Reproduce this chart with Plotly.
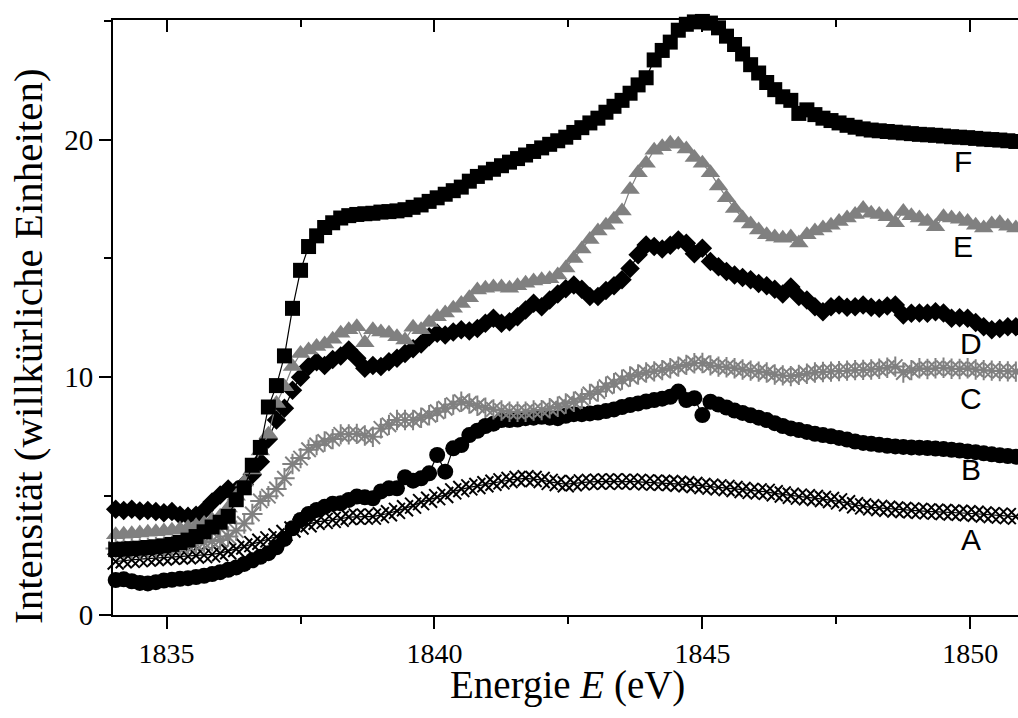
import plotly.graph_objects as go

# Energy sampling grid (eV), 0.15 eV steps
energy = [round(1834.05 + 0.15 * i, 2) for i in range(113)]

spec_F = [
    2.75, 2.77, 2.79, 2.81, 2.84, 2.87, 2.91, 2.97, 3.05, 3.15,
    3.3, 3.5, 3.7, 3.9, 4.15, 4.85, 5.35, 6.3, 7.05, 8.75,
    9.65, 10.9, 12.9, 14.5, 15.5, 15.95, 16.3, 16.5, 16.7, 16.8,
    16.85, 16.88, 16.9, 16.95, 16.97, 17.0, 17.05, 17.15, 17.25, 17.4,
    17.55, 17.7, 17.85, 18.0, 18.25, 18.45, 18.6, 18.75, 18.9, 19.05,
    19.2, 19.35, 19.5, 19.65, 19.8, 19.95, 20.1, 20.3, 20.5, 20.7,
    20.9, 21.15, 21.4, 21.65, 21.95, 22.3, 22.6, 23.35, 23.75, 24.1,
    24.6, 24.85, 24.95, 24.97, 24.9, 24.7, 24.35, 24.0, 23.6, 23.15,
    22.8, 22.4, 22.1, 21.8, 21.65, 21.1, 21.25, 21.05, 20.9, 20.8,
    20.7, 20.6, 20.52, 20.45, 20.4, 20.37, 20.34, 20.31, 20.28, 20.25,
    20.22, 20.2, 20.18, 20.15, 20.12, 20.1, 20.08, 20.05, 20.02, 20.0,
    19.98, 19.95, 19.92]

spec_E = [
    3.38, 3.4, 3.42, 3.45, 3.48, 3.5, 3.53, 3.57, 3.62, 3.68,
    3.75, 3.85, 4.0, 4.15, 4.5, 5.0, 5.6, 6.1, 6.9, 7.6,
    8.9, 9.6, 10.45, 11.0, 11.15, 11.3, 11.4, 11.6, 11.85, 12.0,
    12.13, 11.45, 12.0, 11.9, 11.85, 11.7, 11.57, 12.1, 12.0, 12.3,
    12.55, 12.7, 12.9, 13.1, 13.35, 13.67, 13.75, 13.8, 13.8, 13.75,
    13.85, 13.96, 14.05, 14.1, 14.15, 14.3, 14.6, 15.0, 15.4, 15.8,
    16.15, 16.4, 16.65, 17.0, 17.9, 18.6, 19.0, 19.55, 19.7, 19.85,
    19.8, 19.6, 19.25, 19.0, 18.6, 18.05, 17.55, 17.1, 16.7, 16.45,
    16.2, 16.0, 15.9, 15.85, 15.9, 15.65, 16.0, 16.15, 16.28, 16.4,
    16.55, 16.7, 16.85, 17.1, 16.9, 16.85, 16.75, 16.5, 16.97, 16.8,
    16.7, 16.55, 16.33, 16.75, 16.7, 16.65, 16.55, 16.4, 16.28, 16.45,
    16.5, 16.35, 16.28]

spec_D = [
    4.45, 4.4, 4.45, 4.38, 4.4, 4.35, 4.3, 4.35, 4.2, 4.15,
    4.2, 4.4, 4.75, 5.05, 5.3, 5.25, 5.5, 5.9, 6.45, 7.4,
    8.2, 8.7, 9.45, 10.0, 10.45, 10.65, 10.5, 10.75, 10.9, 11.15,
    10.8, 10.38, 10.5, 10.45, 10.65, 10.8, 11.0, 11.2, 11.4, 11.7,
    11.85, 11.78, 11.9, 12.0, 11.95, 12.05, 12.27, 12.48, 12.27, 12.34,
    12.55, 12.83, 13.11, 12.97, 13.25, 13.5, 13.72, 13.88, 13.7, 13.4,
    13.4, 13.65, 13.85, 14.1, 14.58, 15.15, 15.57, 15.5, 15.4, 15.55,
    15.78, 15.64, 15.2, 15.43, 14.87, 14.65, 14.45, 14.3, 14.2, 14.1,
    13.95, 13.85, 13.7, 13.5, 13.8, 13.4, 13.25, 12.97, 12.76, 12.97,
    13.04, 12.95, 12.97, 13.04, 12.95, 12.9, 13.0, 13.04, 12.62, 12.69,
    12.7, 12.69, 12.76, 12.7, 12.48, 12.5, 12.48, 12.3, 12.13, 12.0,
    12.05, 12.13, 12.13]

spec_C = [
    2.8, 2.8, 2.8, 2.8, 2.82, 2.85, 2.87, 2.9, 2.92, 2.95,
    3.0, 3.05, 3.1, 3.15, 3.3, 3.55, 3.85, 4.25, 4.8, 5.0,
    5.3, 5.75, 6.35, 6.6, 6.95, 7.15, 7.3, 7.4, 7.6, 7.6,
    7.62, 7.55, 7.5, 7.85, 8.0, 8.2, 8.2, 8.2, 8.3, 8.4,
    8.55, 8.7, 8.85, 8.97, 8.9, 8.8, 8.72, 8.65, 8.6, 8.55,
    8.55, 8.55, 8.6, 8.62, 8.7, 8.76, 8.9, 8.97, 9.1, 9.3,
    9.4, 9.6, 9.75, 9.9, 10.03, 10.12, 10.2, 10.25, 10.3, 10.38,
    10.45, 10.52, 10.59, 10.6, 10.5, 10.45, 10.42, 10.38, 10.33, 10.28,
    10.24, 10.2, 10.12, 10.08, 10.05, 10.1, 10.15, 10.2, 10.22, 10.24,
    10.26, 10.28, 10.3, 10.31, 10.33, 10.36, 10.4, 10.45, 10.2, 10.3,
    10.38, 10.35, 10.38, 10.4, 10.36, 10.35, 10.38, 10.33, 10.3, 10.28,
    10.26, 10.25, 10.24]

spec_B = [
    1.47, 1.5, 1.42, 1.35, 1.33, 1.38, 1.45, 1.48, 1.52, 1.55,
    1.6, 1.65, 1.72, 1.8, 1.9, 2.0, 2.15, 2.3, 2.45, 2.6,
    2.85, 3.2, 3.65, 4.0, 4.25, 4.42, 4.55, 4.68, 4.7, 4.84,
    4.98, 4.95, 4.91, 5.2, 5.33, 5.33, 5.8, 5.65, 5.75, 5.96,
    6.73, 6.03, 7.01, 7.15, 7.57, 7.75, 7.95, 8.05, 8.2, 8.2,
    8.22, 8.28, 8.3, 8.34, 8.3, 8.28, 8.38, 8.45, 8.45, 8.48,
    8.52, 8.58, 8.65, 8.75, 8.83, 8.9, 8.98, 9.04, 9.1, 9.18,
    9.4, 9.04, 9.12, 8.41, 8.97, 8.85, 8.73, 8.6, 8.5, 8.4,
    8.3, 8.2, 8.07, 7.95, 7.85, 7.78, 7.7, 7.62, 7.57, 7.52,
    7.45, 7.38, 7.3, 7.24, 7.2, 7.16, 7.12, 7.09, 7.07, 7.05,
    7.04, 7.02, 7.0, 6.98, 6.95, 6.92, 6.88, 6.85, 6.8, 6.76,
    6.72, 6.69, 6.66]

spec_A = [
    2.25, 2.3, 2.32, 2.35, 2.37, 2.4, 2.42, 2.45, 2.46, 2.47,
    2.5, 2.52, 2.55, 2.6, 2.68, 2.78, 2.88, 2.98, 3.08, 3.18,
    3.3, 3.45, 3.6, 3.72, 3.82, 3.92, 3.96, 4.0, 4.05, 4.12,
    4.14, 4.14, 4.14, 4.2, 4.28, 4.38, 4.49, 4.6, 4.75, 4.85,
    4.96, 5.05, 5.2, 5.3, 5.37, 5.43, 5.5, 5.56, 5.62, 5.68,
    5.72, 5.75, 5.72, 5.68, 5.6, 5.55, 5.5, 5.54, 5.58, 5.6,
    5.61, 5.62, 5.62, 5.6, 5.62, 5.6, 5.58, 5.57, 5.56, 5.55,
    5.52, 5.5, 5.47, 5.43, 5.4, 5.37, 5.34, 5.3, 5.26, 5.22,
    5.2, 5.18, 5.12, 5.07, 5.02, 4.98, 4.95, 4.92, 4.88, 4.84,
    4.78, 4.7, 4.62, 4.57, 4.53, 4.5, 4.47, 4.44, 4.42, 4.4,
    4.38, 4.36, 4.35, 4.33, 4.31, 4.3, 4.28, 4.26, 4.23, 4.2,
    4.18, 4.16, 4.14]

curve_labels = ["A", "B", "C", "D", "E", "F"]
label_x = [1850.02, 1850.02, 1850.02, 1850.02, 1849.86, 1849.86]
label_y = [3.16, 6.1, 9.11, 11.43, 15.51, 19.07]

BLACK = "#000000"
GREY = "#808080"

styles = [
    (spec_A, BLACK, dict(symbol="x-thin-open", size=16, line=dict(color=BLACK, width=2))),
    (spec_B, BLACK, dict(symbol="circle", size=16, color=BLACK, line=dict(width=0))),
    (spec_C, GREY, dict(symbol="asterisk-open", size=17, line=dict(color=GREY, width=2))),
    (spec_D, BLACK, dict(symbol="diamond", size=15, color=BLACK, line=dict(width=0))),
    (spec_E, GREY, dict(symbol="triangle-up", size=17, color=GREY, line=dict(width=0))),
    (spec_F, BLACK, dict(symbol="square", size=15, color=BLACK, line=dict(width=0))),
]

fig = go.Figure()
for name, (vals, col, mk) in zip(curve_labels, styles):
    fig.add_trace(go.Scatter(
        x=energy, y=vals, mode="lines+markers", name=name,
        line=dict(color=col, width=1.2), marker=mk,
        cliponaxis=False, showlegend=False, hoverinfo="x+y",
    ))

# helper trace so the mirrored top axis is drawn
fig.add_trace(go.Scatter(x=[None], y=[None], xaxis="x2", showlegend=False,
                         hoverinfo="skip"))

for t, lx, ly in zip(curve_labels, label_x, label_y):
    fig.add_annotation(x=lx, y=ly, xref="x", yref="y", text=t, showarrow=False,
                       font=dict(family="Liberation Sans, Arial, sans-serif",
                                 size=30, color=BLACK),
                       xanchor="center", yanchor="middle")

x_range = [1834.0, 1850.89]
serif = "Liberation Serif, Times New Roman, serif"

fig.add_annotation(xref="paper", yref="paper", x=0.5017, y=-0.118,
                   text="Energie <i>E</i> (eV)", showarrow=False,
                   font=dict(family=serif, size=39, color=BLACK),
                   xanchor="center", yanchor="middle")
fig.add_annotation(xref="paper", yref="paper", x=-0.094, y=0.452,
                   text="Intensität (willkürliche Einheiten)", showarrow=False,
                   textangle=-90,
                   font=dict(family=serif, size=41, color=BLACK),
                   xanchor="center", yanchor="middle")

fig.update_layout(
    width=1018, height=718,
    margin=dict(l=113, r=0, t=20, b=103),
    paper_bgcolor="white", plot_bgcolor="white",
    xaxis=dict(
        range=x_range, tick0=1835, dtick=5, ticks="outside", ticklen=12,
        tickwidth=1.5, tickcolor=BLACK, showline=True, linewidth=2,
        linecolor=BLACK, showgrid=False, zeroline=False,
        tickfont=dict(family=serif, size=28, color=BLACK),
        minor=dict(tick0=1835, dtick=2.5, ticks="outside", ticklen=7,
                   tickwidth=1.5, tickcolor=BLACK, showgrid=False),
    ),
    xaxis2=dict(
        range=x_range, matches="x", overlaying="x", side="top", anchor="y",
        tick0=1835, dtick=5, ticks="inside", ticklen=12, tickwidth=1.5,
        tickcolor=BLACK, showline=True, linewidth=1.5, linecolor=BLACK,
        showgrid=False, zeroline=False, showticklabels=False,
        minor=dict(tick0=1835, dtick=2.5, ticks="inside", ticklen=7,
                   tickwidth=1.5, tickcolor=BLACK, showgrid=False),
    ),
    yaxis=dict(
        range=[0, 25.03], tick0=0, dtick=10, ticks="outside", ticklen=12,
        tickwidth=1.5, tickcolor=BLACK, showline=True, linewidth=2,
        linecolor=BLACK, showgrid=False, zeroline=False,
        tickfont=dict(family=serif, size=29, color=BLACK),
        minor=dict(tick0=0, dtick=5, ticks="outside", ticklen=7,
                   tickwidth=1.5, tickcolor=BLACK, showgrid=False),
    ),
)

fig.write_html("out.html")
